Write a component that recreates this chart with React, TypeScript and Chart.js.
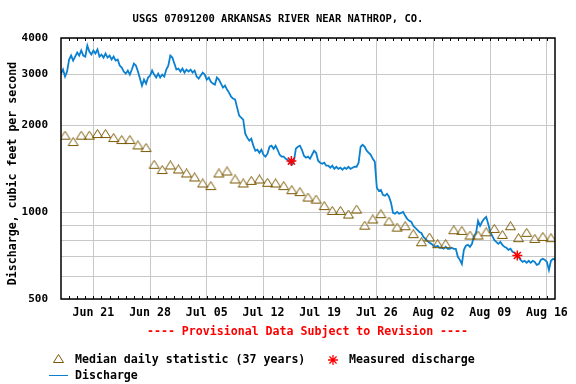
import React, { useEffect, useRef } from "react";
import { Chart, registerables } from "chart.js";

Chart.register(...registerables);

const TITLE = "USGS 07091200 ARKANSAS RIVER NEAR NATHROP, CO.";
const Y_TITLE = "Discharge, cubic feet per second";
const PROVISIONAL = "---- Provisional Data Subject to Revision ----";
const LEGEND_MEDIAN = "Median daily statistic (37 years)";
const LEGEND_MEASURED = "Measured discharge";
const LEGEND_DISCHARGE = "Discharge";

// x axis in days since Jun 17 00:00
const X_MIN = 0;
const X_MAX = 61;
const xTickDays = [4, 11, 18, 25, 32, 39, 46, 53, 60];
const xTickLabels = ["Jun 21", "Jun 28", "Jul 05", "Jul 12", "Jul 19", "Jul 26", "Aug 02", "Aug 09", "Aug 16"];

const Y_MIN = 500;
const Y_MAX = 4000;
const yGridValues = [500, 600, 700, 800, 900, 1000, 2000, 3000, 4000];
const yLabeledValues = [500, 1000, 2000, 3000, 4000];

// Median daily statistic, one per day (Jun 17 .. Aug 16), plotted at noon
const medianValues = [
  1837, 1746, 1837, 1837, 1861, 1861, 1803, 1774, 1774, 1700,
  1665, 1457, 1397, 1449, 1403, 1359, 1317, 1255, 1229, 1359,
  1381, 1296, 1255, 1282, 1296, 1262, 1255, 1229, 1190, 1172,
  1122, 1104, 1048, 1009, 1009, 980, 1020, 897, 942, 983,
  927, 883, 893, 838, 786, 816, 774, 774, 865, 860,
  829, 829, 851, 874, 833, 893, 812, 847, 807, 820, 812,
];

// Discharge, sampled every 6 hours from Jun 17 00:00
const DISCHARGE_STEP_DAYS = 0.25;
const dischargeValues = [
  3010, 3111, 2942, 3061,
  3368, 3478, 3342, 3450,
  3563, 3478, 3620, 3478,
  3450, 3766, 3591, 3506,
  3620, 3534, 3648, 3450,
  3506, 3422, 3534, 3422,
  3478, 3368, 3450, 3342,
  3368, 3211, 3161, 3061,
  3011, 3086, 2988, 3111,
  3263, 3211, 3061, 2894,
  2737, 2871, 2781, 2918,
  2965, 3086, 2988, 2918,
  3011, 2918, 2988, 2942,
  3111, 3211, 3478, 3422,
  3263, 3111, 3136, 3061,
  3136, 3036, 3111, 3061,
  3111, 3036, 3086, 2942,
  2894, 2965, 3036, 2988,
  2871, 2918, 2826, 2781,
  2759, 2918, 2871, 2781,
  2694, 2737, 2651, 2589,
  2508, 2468, 2448, 2297,
  2155, 2121, 2087, 1866,
  1808, 1765, 1793, 1696,
  1629, 1642, 1603, 1642,
  1578, 1554, 1591, 1682,
  1696, 1655, 1696, 1642,
  1578, 1554, 1554, 1528,
  1516, 1481, 1457, 1492,
  1655, 1682, 1696, 1642,
  1566, 1541, 1554, 1528,
  1578, 1629, 1603, 1504,
  1481, 1469, 1481, 1446,
  1446, 1423, 1446, 1411,
  1434, 1411, 1423, 1400,
  1423, 1411, 1434, 1411,
  1423, 1434, 1434, 1481,
  1682, 1709, 1682, 1629,
  1603, 1578, 1528, 1492,
  1213, 1184, 1193, 1147,
  1138, 1156, 1129, 1076,
  993, 986, 1001, 986,
  993, 1001, 970, 947,
  932, 925, 896, 881,
  867, 853, 846, 820,
  807, 795, 782, 776,
  764, 758, 764, 752,
  752, 746, 758, 746,
  746, 752, 746, 746,
  700, 683, 661, 740,
  764, 770, 758, 776,
  827, 846, 932, 896,
  925, 947, 962, 910,
  853, 827, 801, 788,
  776, 788, 770, 758,
  752, 740, 746, 728,
  723, 711, 700, 683,
  672, 678, 667, 678,
  667, 678, 672, 656,
  661, 683, 689, 683,
  672, 630, 678, 689,
  683,
];

const measuredDays = [28.45, 56.35];
const measuredValues = [1500, 707];

const BLUE = "#0a80d0";
const OLIVE = "#7a5800";
const RED = "#ff0000";
const GRID = "#c8c8c8";
const MONO = '"DejaVu Sans Mono", monospace';

function makeTriangle(): HTMLCanvasElement {
  const c = document.createElement("canvas");
  c.width = 13;
  c.height = 10;
  const g = c.getContext("2d")!;
  g.strokeStyle = OLIVE;
  g.lineWidth = 1;
  g.beginPath();
  g.moveTo(6.5, 0.5);
  g.lineTo(11.5, 8.5);
  g.lineTo(1.5, 8.5);
  g.closePath();
  g.stroke();
  return c;
}

export default function App() {
  const ref = useRef<HTMLCanvasElement | null>(null);

  useEffect(() => {
    if (!ref.current) return;
    const tri = makeTriangle();

    const decor = {
      id: "decor",
      afterDraw(chart: any) {
        const { ctx, chartArea: a, scales } = chart;
        const xs = scales.x;
        ctx.save();
        // daily minor ticks
        ctx.strokeStyle = "#000";
        ctx.lineWidth = 1;
        ctx.beginPath();
        for (let d = X_MIN + 1; d < X_MAX; d++) {
          const px = Math.round(xs.getPixelForValue(d)) + 0.5;
          ctx.moveTo(px, a.bottom);
          ctx.lineTo(px, a.bottom - 3);
          ctx.moveTo(px, a.top);
          ctx.lineTo(px, a.top + 3);
        }
        ctx.stroke();
        // frame
        ctx.lineWidth = 1.5;
        ctx.strokeRect(a.left, a.top, a.right - a.left, a.bottom - a.top);

        ctx.textBaseline = "middle";
        // title
        ctx.fillStyle = "#000";
        ctx.font = `bold 10.5px ${MONO}`;
        ctx.textAlign = "center";
        ctx.fillText(TITLE, 278, 19);
        // y title
        ctx.save();
        ctx.translate(13, 173.5);
        ctx.rotate(-Math.PI / 2);
        ctx.font = `bold 11.6px ${MONO}`;
        ctx.fillText(Y_TITLE, 0, 0);
        ctx.restore();
        // provisional
        ctx.fillStyle = RED;
        ctx.font = `bold 11.6px ${MONO}`;
        ctx.textAlign = "center";
        ctx.fillText(PROVISIONAL, 307.5, 331.5);
        // legend
        ctx.fillStyle = "#000";
        ctx.textAlign = "left";
        ctx.drawImage(tri, 52, 354);
        ctx.fillText(LEGEND_MEDIAN, 75, 359.5);
        // star
        ctx.strokeStyle = RED;
        ctx.lineWidth = 1.3;
        ctx.beginPath();
        const sx = 333, sy = 360, r = 5;
        for (let k = 0; k < 4; k++) {
          const ang = (k * Math.PI) / 4;
          ctx.moveTo(sx - r * Math.cos(ang), sy - r * Math.sin(ang));
          ctx.lineTo(sx + r * Math.cos(ang), sy + r * Math.sin(ang));
        }
        ctx.stroke();
        ctx.fillText(LEGEND_MEASURED, 349, 359.5);
        // discharge line
        ctx.strokeStyle = BLUE;
        ctx.lineWidth = 1;
        ctx.beginPath();
        ctx.moveTo(49, 375.5);
        ctx.lineTo(68, 375.5);
        ctx.stroke();
        ctx.fillText(LEGEND_DISCHARGE, 75, 376);
        ctx.restore();
      },
    };

    const chart = new Chart(ref.current, {
      type: "line",
      data: {
        datasets: [
          {
            label: LEGEND_MEASURED,
            data: measuredDays.map((d, i) => ({ x: d, y: measuredValues[i] })),
            showLine: false,
            pointStyle: "star",
            pointRadius: 5,
            borderColor: RED,
            backgroundColor: RED,
            pointBorderWidth: 1.5,
          },
          {
            label: LEGEND_MEDIAN,
            data: medianValues.map((v, i) => ({ x: i + 0.5, y: v })),
            showLine: false,
            pointStyle: tri as any,
            pointRadius: 5,
            borderColor: OLIVE,
          },
          {
            label: LEGEND_DISCHARGE,
            data: dischargeValues.map((v, i) => ({ x: i * DISCHARGE_STEP_DAYS, y: v })),
            borderColor: BLUE,
            borderWidth: 1.8,
            pointRadius: 0,
            tension: 0,
          },
        ],
      },
      options: {
        animation: false,
        responsive: false,
        events: [],
        layout: { padding: { left: 0, top: 38, right: 21, bottom: 0 } },
        plugins: {
          legend: { display: false },
          title: { display: false },
          tooltip: { enabled: false },
        },
        scales: {
          x: {
            type: "linear",
            min: X_MIN,
            max: X_MAX,
            afterBuildTicks: (s: any) => {
              s.ticks = xTickDays.map((v) => ({ value: v }));
            },
            afterFit: (s: any) => {
              s.height = 85;
            },
            grid: { color: GRID, drawTicks: false, lineWidth: 1 },
            border: { display: false },
            ticks: {
              autoSkip: false,
              maxRotation: 0,
              padding: 7,
              color: "#000",
              font: { family: MONO, size: 11.6, weight: "bold" },
              callback: (v: any) => xTickLabels[xTickDays.indexOf(Number(v))] ?? "",
            },
          },
          y: {
            type: "logarithmic",
            min: Y_MIN,
            max: Y_MAX,
            afterBuildTicks: (s: any) => {
              s.ticks = yGridValues.map((v) => ({ value: v }));
            },
            afterFit: (s: any) => {
              s.width = 61;
            },
            grid: { color: GRID, drawTicks: false, lineWidth: 1 },
            border: { display: false },
            ticks: {
              padding: 13,
              color: "#000",
              font: { family: MONO, size: 11, weight: "bold" },
              callback: (v: any) => (yLabeledValues.includes(Number(v)) ? String(v) : ""),
            },
          },
        },
      },
      plugins: [decor],
    } as any);

    return () => chart.destroy();
  }, []);

  return (
    <div style={{ position: "fixed", left: 0, top: 0, width: 576, height: 384, background: "#fff" }}>
      <canvas ref={ref} width={576} height={384} style={{ display: "block" }} />
    </div>
  );
}
